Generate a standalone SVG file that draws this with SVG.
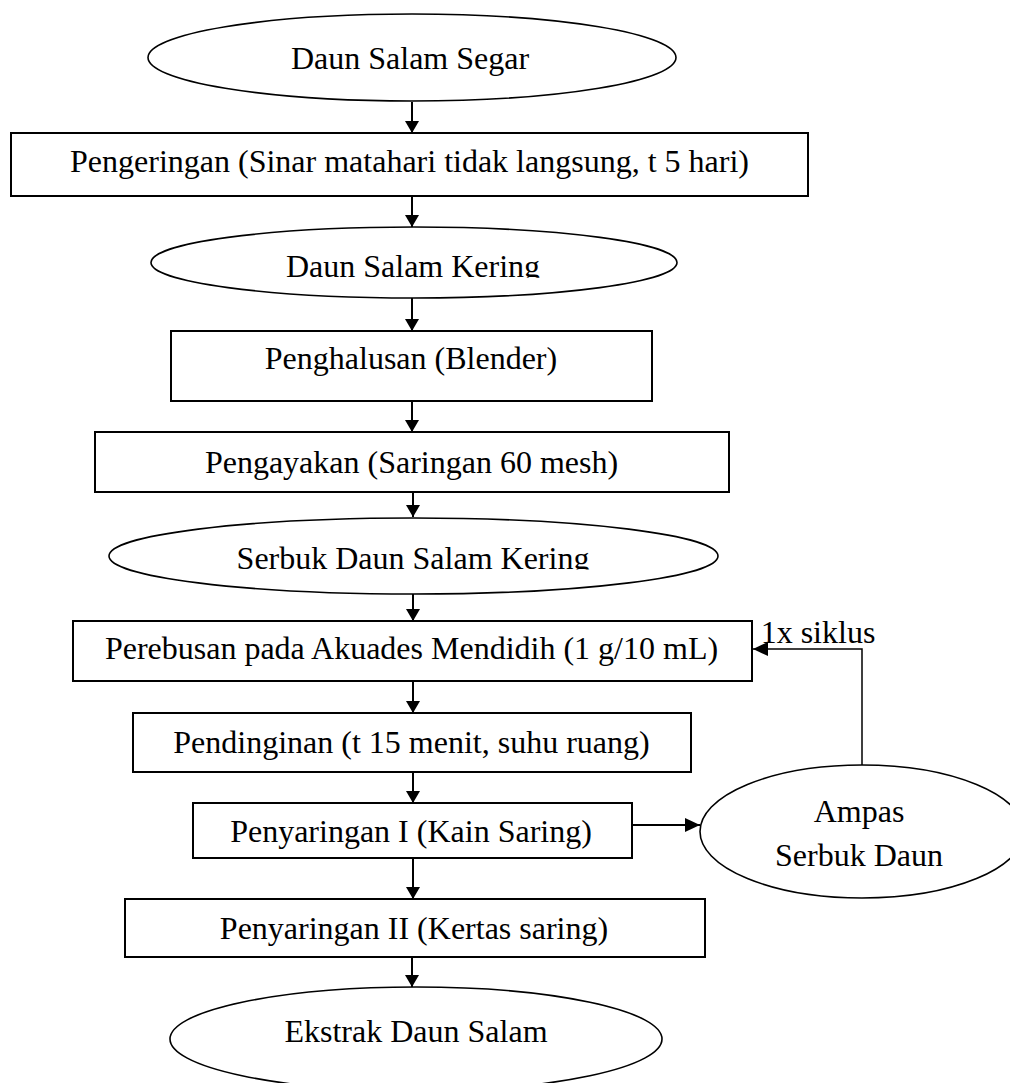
<svg xmlns="http://www.w3.org/2000/svg" width="1010" height="1083" viewBox="0 0 1010 1083">
<style>
.box{fill:#fff;stroke:#000;stroke-width:2}
.ell{fill:#fff;stroke:#000;stroke-width:1.6}
.t{font-family:"Liberation Serif","Times New Roman",serif;font-size:32px;fill:#000;text-anchor:middle}
.c{stroke:#000;stroke-width:2;fill:none}
.f{stroke:#000;stroke-width:1.5;fill:none}
</style>
<defs>
<marker id="ah" markerUnits="userSpaceOnUse" viewBox="0 0 12 14" refX="12" refY="7" markerWidth="12" markerHeight="14" orient="auto">
<path d="M0,0 L12,7 L0,14 Z" fill="#000"/>
</marker>
<marker id="ah2" markerUnits="userSpaceOnUse" viewBox="0 0 15 14" refX="15" refY="7" markerWidth="15" markerHeight="14" orient="auto">
<path d="M0,0 L15,7 L0,14 Z" fill="#000"/>
</marker>
<clipPath id="clip2"><rect x="0" y="220" width="1010" height="57.8"/></clipPath>
<clipPath id="clip3"><rect x="0" y="510" width="1010" height="59.5"/></clipPath>
</defs>

<g id="connectors">
<line class="c" x1="412" y1="102" x2="412" y2="133" marker-end="url(#ah)"/>
<line class="c" x1="412" y1="196" x2="412" y2="227" marker-end="url(#ah)"/>
<line class="c" x1="412" y1="298" x2="412" y2="331" marker-end="url(#ah)"/>
<line class="c" x1="412" y1="401" x2="412" y2="432" marker-end="url(#ah)"/>
<line class="c" x1="413" y1="492" x2="413" y2="517" marker-end="url(#ah)"/>
<line class="c" x1="413" y1="594" x2="413" y2="621" marker-end="url(#ah)"/>
<line class="c" x1="413" y1="681" x2="413" y2="713" marker-end="url(#ah)"/>
<line class="c" x1="413" y1="772" x2="413" y2="803" marker-end="url(#ah)"/>
<line class="c" x1="632" y1="825" x2="700" y2="825" marker-end="url(#ah2)"/>
<line class="c" x1="413" y1="858" x2="413" y2="899" marker-end="url(#ah)"/>
<line class="c" x1="412" y1="957" x2="412" y2="987" marker-end="url(#ah)"/>
<polyline class="f" points="862,765 862,649 753,649" marker-end="url(#ah2)"/>
<text class="t" x="818" y="643">1x siklus</text>
</g>

<g id="n1">
<ellipse class="ell" cx="412" cy="57.5" rx="264" ry="43.5"/>
<text class="t" x="410" y="69">Daun Salam Segar</text>
</g>
<g id="n2">
<rect class="box" x="11" y="133" width="797" height="63"/>
<text class="t" x="409.5" y="172">Pengeringan (Sinar matahari tidak langsung, t 5 hari)</text>
</g>
<g id="n3">
<ellipse class="ell" cx="414" cy="262.5" rx="263" ry="35.5"/>
<text class="t" x="413" y="277" clip-path="url(#clip2)">Daun Salam Kering</text>
</g>
<g id="n4">
<rect class="box" x="171" y="331" width="481" height="70"/>
<text class="t" x="411" y="369">Penghalusan (Blender)</text>
</g>
<g id="n5">
<rect class="box" x="95" y="432" width="634" height="60"/>
<text class="t" x="411.5" y="473">Pengayakan (Saringan 60 mesh)</text>
</g>
<g id="n6">
<ellipse class="ell" cx="413.5" cy="556" rx="304.5" ry="38"/>
<text class="t" x="413" y="568.5" clip-path="url(#clip3)">Serbuk Daun Salam Kering</text>
</g>
<g id="n7">
<rect class="box" x="73" y="621" width="679" height="60"/>
<text class="t" x="411.5" y="659">Perebusan pada Akuades Mendidih (1 g/10 mL)</text>
</g>
<g id="n8">
<rect class="box" x="133" y="713" width="558" height="59"/>
<text class="t" x="411.5" y="753">Pendinginan (t 15 menit, suhu ruang)</text>
</g>
<g id="n9">
<rect class="box" x="193" y="803" width="439" height="55"/>
<text class="t" x="411" y="842">Penyaringan I (Kain Saring)</text>
</g>
<g id="n10">
<ellipse class="ell" cx="862" cy="831.5" rx="162" ry="66.5"/>
<text class="t" x="859" y="822">Ampas</text>
<text class="t" x="859" y="866">Serbuk Daun</text>
</g>
<g id="n11">
<rect class="box" x="125" y="899" width="580" height="58"/>
<text class="t" x="414" y="939">Penyaringan II (Kertas saring)</text>
</g>
<g id="n12">
<ellipse class="ell" cx="416" cy="1039" rx="246" ry="52"/>
<text class="t" x="416" y="1042">Ekstrak Daun Salam</text>
</g>
</svg>
